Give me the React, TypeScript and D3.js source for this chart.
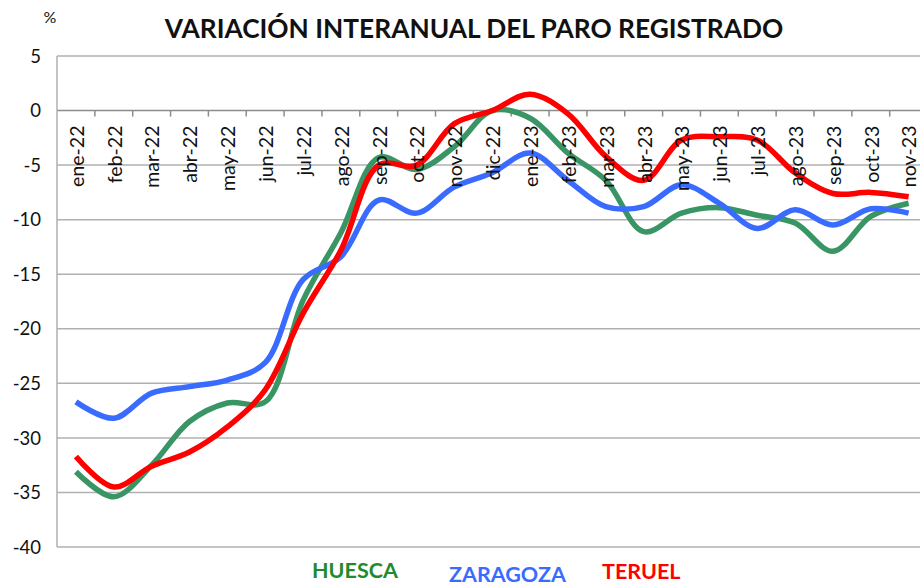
import React, { useEffect, useRef } from "react"
import * as d3 from "d3"

const months = [
  "ene-22", "feb-22", "mar-22", "abr-22", "may-22", "jun-22", "jul-22", "ago-22",
  "sep-22", "oct-22", "nov-22", "dic-22", "ene-23", "feb-23", "mar-23", "abr-23",
  "may-23", "jun-23", "jul-23", "ago-23", "sep-23", "oct-23", "nov-23",
]
const huesca = [
  -33.1, -35.4, -32.5, -28.5, -26.8, -26.7, -17.4, -11.2, -4.3, -5.4, -3.3, 0.0,
  -0.7, -3.9, -6.4, -11.1, -9.4, -8.9, -9.6, -10.3, -12.9, -9.7, -8.5,
]
const zaragoza = [
  -26.7, -28.2, -25.9, -25.3, -24.7, -23.1, -15.5, -13.4, -8.2, -9.4, -7.0, -5.7,
  -3.9, -6.4, -8.8, -8.8, -6.8, -8.5, -10.8, -9.1, -10.5, -9.0, -9.4,
]
const teruel = [
  -31.7, -34.5, -32.6, -31.3, -29.0, -25.6, -18.6, -12.8, -5.0, -5.0, -1.2, 0.0,
  1.5, -0.3, -4.2, -6.4, -2.7, -2.4, -2.7, -5.7, -7.6, -7.5, -7.9,
]
const yTicks = [5, 0, -5, -10, -15, -20, -25, -30, -35, -40]

const seriesList = [
  { name: "HUESCA", values: huesca, line: "#3a9565", label: "#1e8c2c", lx: 312, ly: 578 },
  { name: "ZARAGOZA", values: zaragoza, line: "#3a6bff", label: "#3a6bff", lx: 449, ly: 582 },
  { name: "TERUEL", values: teruel, line: "#ff0000", label: "#ff0000", lx: 602, ly: 579 },
]

const W = 920
const H = 588
const font = "Lato, 'Open Sans', sans-serif"

export default function App() {
  const ref = useRef<SVGSVGElement>(null)

  useEffect(() => {
    const svg = d3.select(ref.current)
    svg.selectAll("*").remove()

    const left = 57
    const top = 56
    const bottom = 547
    const step = 37.85
    const right = left + step * months.length

    const x = d3.scaleBand().domain(months).range([left, right]).paddingInner(0).paddingOuter(0)
    const y = d3.scaleLinear().domain([-40, 5]).range([bottom, top])

    // gridlines
    svg
      .append("g")
      .selectAll("line")
      .data(yTicks)
      .join("line")
      .attr("x1", left)
      .attr("x2", W)
      .attr("y1", d => y(d))
      .attr("y2", d => y(d))
      .attr("stroke", d => (d === 0 ? "#8c8c8c" : "#b0b0b0"))
      .attr("stroke-width", 1.5)

    // y axis line
    svg
      .append("line")
      .attr("x1", left)
      .attr("x2", left)
      .attr("y1", top)
      .attr("y2", bottom)
      .attr("stroke", "#b0b0b0")
      .attr("stroke-width", 1.5)

    // y tick labels
    svg
      .append("g")
      .selectAll("text")
      .data(yTicks)
      .join("text")
      .attr("x", 41)
      .attr("y", d => y(d))
      .attr("dy", "0.36em")
      .attr("text-anchor", "end")
      .style("font-family", font)
      .style("font-size", "18.5px")
      .attr("fill", "#111")
      .text(d => d)

    // x tick marks at category boundaries
    const bounds = months.map((m, i) => (i === 0 ? left : x(m)!)).concat([right])
    svg
      .append("g")
      .selectAll("line")
      .data(bounds.slice(1))
      .join("line")
      .attr("x1", d => d)
      .attr("x2", d => d)
      .attr("y1", y(0))
      .attr("y2", y(0) + 6)
      .attr("stroke", "#8c8c8c")
      .attr("stroke-width", 1.5)

    // lines
    const line = d3
      .line<number>()
      .x((_, i) => x(months[i])! + x.bandwidth() / 2)
      .y(d => y(d))
      .curve(d3.curveCatmullRom.alpha(0.5))

    seriesList.forEach(s => {
      svg
        .append("path")
        .datum(s.values)
        .attr("d", line)
        .attr("fill", "none")
        .attr("stroke", s.line)
        .attr("stroke-width", 5.5)
        .attr("stroke-linejoin", "round")
    })

    // category labels (drawn over the lines)
    svg
      .append("g")
      .selectAll("text")
      .data(months)
      .join("text")
      .attr(
        "transform",
        d => `translate(${x(d)! + x.bandwidth() / 2 + 1},${y(0) + 15}) rotate(-90)`,
      )
      .attr("dy", "0.35em")
      .attr("text-anchor", "end")
      .style("font-family", font)
      .style("font-size", "19.5px")
      .attr("fill", "#111")
      .text(d => d)

    // title
    svg
      .append("text")
      .attr("x", 474)
      .attr("y", 38)
      .attr("text-anchor", "middle")
      .style("font-family", font)
      .style("font-size", "26.3px")
      .style("font-weight", 700)
      .attr("fill", "#111")
      .text("VARIACIÓN INTERANUAL DEL PARO REGISTRADO")

    svg
      .append("text")
      .attr("x", 50)
      .attr("y", 23)
      .attr("text-anchor", "middle")
      .style("font-family", font)
      .style("font-size", "16px")
      .attr("fill", "#111")
      .text("%")

    // legend labels
    seriesList.forEach(s => {
      svg
        .append("text")
        .attr("x", s.lx)
        .attr("y", s.ly)
        .style("font-family", font)
        .style("font-size", "21.5px")
        .style("font-weight", 700)
        .attr("fill", s.label)
        .text(s.name)
    })
  }, [])

  return (
    <svg
      ref={ref}
      width={W}
      height={H}
      style={{ position: "absolute", left: 0, top: 0, background: "#fff" }}
    />
  )
}
